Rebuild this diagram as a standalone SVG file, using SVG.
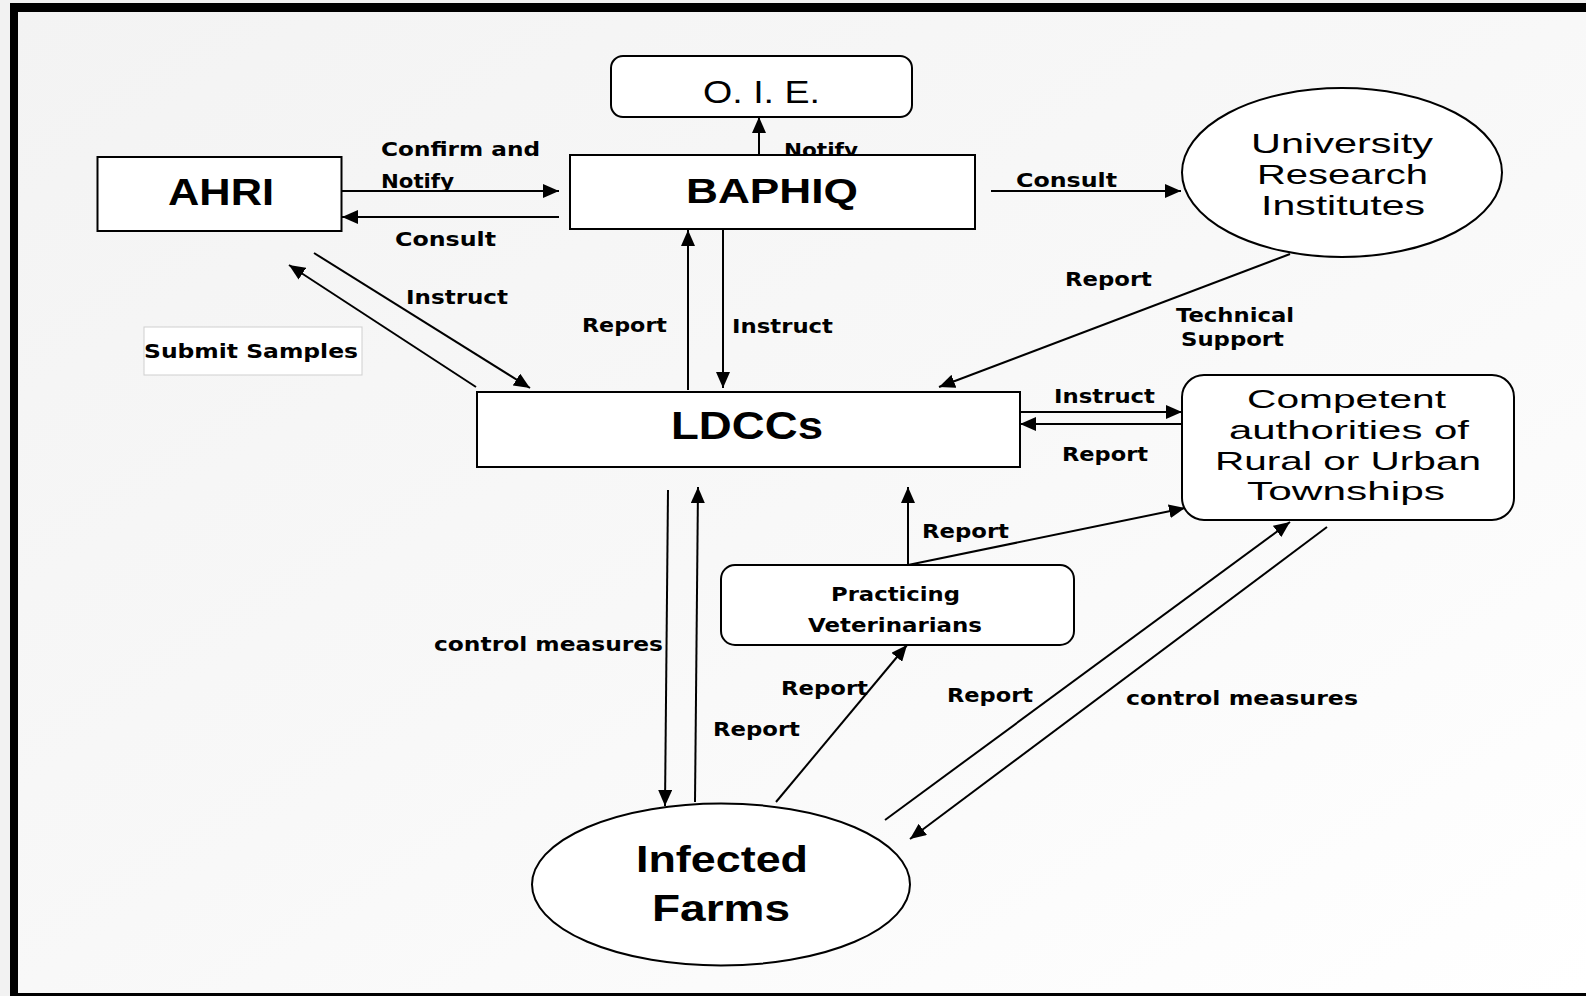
<svg xmlns="http://www.w3.org/2000/svg" width="1586" height="996" viewBox="0 0 1586 996">
<defs>
<linearGradient id="bg" x1="0" y1="0" x2="1" y2="1">
<stop offset="0" stop-color="#f3f3f3"/>
<stop offset="0.5" stop-color="#f8f8f8"/>
<stop offset="1" stop-color="#ffffff"/>
</linearGradient>
<marker id="ah" markerUnits="userSpaceOnUse" markerWidth="16" markerHeight="14" refX="16" refY="7" orient="auto">
<path d="M0,0 L16,7 L0,14 z" fill="#000"/>
</marker>
<style>
.node{fill:#fff;stroke:#000;stroke-width:2}
.conn{stroke:#000;stroke-width:2;fill:none;marker-end:url(#ah)}
.lbl{font-family:"DejaVu Sans","Liberation Sans",sans-serif;font-weight:bold;font-size:20px;fill:#000}
.nb{font-family:"Liberation Sans",Arial,sans-serif;font-weight:bold;fill:#000}
.nr{font-family:"Liberation Sans",Arial,sans-serif;fill:#000}
</style>
</defs>
<rect x="0" y="0" width="1586" height="996" fill="#f2f2f2"/>
<rect x="18" y="12" width="1568" height="981" fill="url(#bg)"/>
<rect x="10" y="3" width="8" height="993" fill="#000"/>
<rect x="10" y="3" width="1576" height="9" fill="#000"/>
<rect x="10" y="993" width="1576" height="3" fill="#000"/>

<g id="connectors">
<line class="conn" x1="342" y1="191" x2="559" y2="191"/>
<line class="conn" x1="559" y1="217" x2="342" y2="217"/>
<line class="conn" x1="314" y1="253" x2="530" y2="388"/>
<line class="conn" x1="476" y1="387" x2="289" y2="265"/>
<line class="conn" x1="759" y1="155" x2="759" y2="117"/>
<line class="conn" x1="688" y1="390" x2="688" y2="230"/>
<line class="conn" x1="723" y1="229" x2="723" y2="388"/>
<line class="conn" x1="991" y1="191" x2="1181" y2="191"/>
<line class="conn" x1="1290" y1="254" x2="939" y2="387"/>
<line class="conn" x1="1020" y1="412" x2="1182" y2="412"/>
<line class="conn" x1="1182" y1="424" x2="1020" y2="424"/>
<line class="conn" x1="908" y1="565" x2="908" y2="487"/>
<line class="conn" x1="908" y1="565" x2="1185" y2="508"/>
<line class="conn" x1="668" y1="490" x2="665" y2="806"/>
<line class="conn" x1="695" y1="802" x2="698" y2="487"/>
<line class="conn" x1="776" y1="802" x2="907" y2="645"/>
<line class="conn" x1="885" y1="820" x2="1290" y2="522"/>
<line class="conn" x1="1327" y1="527" x2="910" y2="839"/>
</g>

<g id="labels">
<text class="lbl" x="381" y="156" textLength="159" lengthAdjust="spacingAndGlyphs">Confirm and</text>
<text class="lbl" x="381" y="188" textLength="73" lengthAdjust="spacingAndGlyphs">Notify</text>
<text class="lbl" x="395" y="246" textLength="101" lengthAdjust="spacingAndGlyphs">Consult</text>
<text class="lbl" x="406" y="304" textLength="102" lengthAdjust="spacingAndGlyphs">Instruct</text>
<text class="lbl" x="784" y="157" textLength="74" lengthAdjust="spacingAndGlyphs">Notify</text>
<text class="lbl" x="582" y="332" textLength="85" lengthAdjust="spacingAndGlyphs">Report</text>
<text class="lbl" x="732" y="333" textLength="101" lengthAdjust="spacingAndGlyphs">Instruct</text>
<text class="lbl" x="1016" y="187" textLength="101" lengthAdjust="spacingAndGlyphs">Consult</text>
<text class="lbl" x="1065" y="286" textLength="87" lengthAdjust="spacingAndGlyphs">Report</text>
<text class="lbl" x="1176" y="322" textLength="118" lengthAdjust="spacingAndGlyphs">Technical</text>
<text class="lbl" x="1181" y="346" textLength="103" lengthAdjust="spacingAndGlyphs">Support</text>
<text class="lbl" x="1054" y="403" textLength="101" lengthAdjust="spacingAndGlyphs">Instruct</text>
<text class="lbl" x="1062" y="461" textLength="86" lengthAdjust="spacingAndGlyphs">Report</text>
<text class="lbl" x="922" y="538" textLength="87" lengthAdjust="spacingAndGlyphs">Report</text>
<text class="lbl" x="434" y="651" textLength="229" lengthAdjust="spacingAndGlyphs">control measures</text>
<text class="lbl" x="713" y="736" textLength="87" lengthAdjust="spacingAndGlyphs">Report</text>
<text class="lbl" x="781" y="695" textLength="87" lengthAdjust="spacingAndGlyphs">Report</text>
<text class="lbl" x="947" y="702" textLength="86" lengthAdjust="spacingAndGlyphs">Report</text>
<text class="lbl" x="1126" y="705" textLength="232" lengthAdjust="spacingAndGlyphs">control measures</text>
</g>

<g id="submit-samples">
<rect x="144" y="327" width="218" height="48" fill="#fff" stroke="#cfcfcf" stroke-width="1"/>
<text class="lbl" x="144" y="358" textLength="214" lengthAdjust="spacingAndGlyphs">Submit Samples</text>
</g>

<g id="oie">
<rect class="node" x="611" y="56" width="301" height="61" rx="12" stroke-width="3"/>
<text class="nr" x="703" y="103" font-size="32" textLength="117" lengthAdjust="spacingAndGlyphs">O. I. E.</text>
</g>

<g id="baphiq">
<rect class="node" x="570" y="155" width="405" height="74"/>
<text class="nb" x="686" y="203" font-size="35" textLength="172" lengthAdjust="spacingAndGlyphs">BAPHIQ</text>
</g>

<g id="ahri">
<rect class="node" x="97.5" y="157" width="244" height="74"/>
<text class="nb" x="168" y="205" font-size="37" textLength="106" lengthAdjust="spacingAndGlyphs">AHRI</text>
</g>

<g id="university">
<ellipse class="node" cx="1342" cy="172.5" rx="160" ry="84.5"/>
<text class="nr" x="1251" y="153" font-size="28" textLength="182" lengthAdjust="spacingAndGlyphs">University</text>
<text class="nr" x="1257" y="184" font-size="28" textLength="171" lengthAdjust="spacingAndGlyphs">Research</text>
<text class="nr" x="1261" y="215" font-size="28" textLength="164" lengthAdjust="spacingAndGlyphs">Institutes</text>
</g>

<g id="ldccs">
<rect class="node" x="477" y="392" width="543" height="75"/>
<text class="nb" x="671" y="439" font-size="39" textLength="152" lengthAdjust="spacingAndGlyphs">LDCCs</text>
</g>

<g id="competent">
<rect class="node" x="1182" y="375" width="332" height="145" rx="22"/>
<text class="nr" x="1247" y="408" font-size="26" textLength="199" lengthAdjust="spacingAndGlyphs">Competent</text>
<text class="nr" x="1229" y="439" font-size="26" textLength="240" lengthAdjust="spacingAndGlyphs">authorities of</text>
<text class="nr" x="1215" y="470" font-size="26" textLength="266" lengthAdjust="spacingAndGlyphs">Rural or Urban</text>
<text class="nr" x="1247" y="500" font-size="26" textLength="198" lengthAdjust="spacingAndGlyphs">Townships</text>
</g>

<g id="practicing">
<rect class="node" x="721" y="565" width="353" height="80" rx="14"/>
<text class="lbl" x="831" y="601" font-size="21" textLength="129" lengthAdjust="spacingAndGlyphs">Practicing</text>
<text class="lbl" x="808" y="632" font-size="21" textLength="174" lengthAdjust="spacingAndGlyphs">Veterinarians</text>
</g>

<g id="infected">
<ellipse class="node" cx="721" cy="884.5" rx="189" ry="81"/>
<text class="nb" x="636" y="872" font-size="36" textLength="172" lengthAdjust="spacingAndGlyphs">Infected</text>
<text class="nb" x="652" y="921" font-size="36" textLength="138" lengthAdjust="spacingAndGlyphs">Farms</text>
</g>
</svg>
